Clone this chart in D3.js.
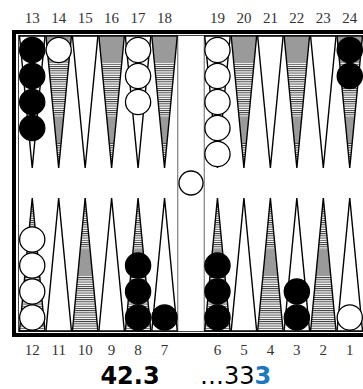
<!DOCTYPE html>
<html>
<head>
<meta charset="utf-8">
<script src="https://cdn.jsdelivr.net/npm/d3@7"></script>
<style>
  body { margin: 0; background: #fff; }
  svg { display: block; }
</style>
</head>
<body>
<svg id="board" width="363" height="389"></svg>
<script>
// board layout: top row left to right, bottom row left to right ("bar" = middle)
const topRow = [13, 14, 15, 16, 17, 18, "bar", 19, 20, 21, 22, 23, 24]
const bottomRow = [12, 11, 10, 9, 8, 7, "bar", 6, 5, 4, 3, 2, 1]
const shadedPoints = [14, 16, 18, 20, 22, 24, 12, 10, 8, 6, 4, 2]

// checkers sitting on points
const checkerPoint = [13, 14, 17, 19, 24, 12, 8, 7, 6, 3, 1]
const checkerCount = [4, 1, 3, 5, 2, 4, 3, 1, 3, 2, 1]
const checkerColor = ["black", "white", "white", "white", "black", "white", "black", "black", "black", "black", "white"]
const barCheckers = ["white"]

// pip counts under the board
const pipLeft = "42.3"
const pipRightPlain = "\u202633"
const pipRightBold = "3"

const svg = d3.select("#board")

const x = d3.scaleBand()
    .domain(d3.range(13))
    .range([19, 363])
    .paddingInner(0)

// stack position -> y for top and bottom rows
const yTop = d3.scaleLinear().domain([0, 1]).range([50, 76])
const yBot = d3.scaleLinear().domain([0, 1]).range([317.5, 291.5])

const TOP_BASE = 36, TOP_TIP = 168
const BOT_BASE = 331, BOT_TIP = 198

function slotOf(p) {
    let i = topRow.indexOf(p)
    if (i >= 0) return { i: i, top: true }
    return { i: bottomRow.indexOf(p), top: false }
}

// hatch pattern
const defs = svg.append("defs")
const pat = defs.append("pattern")
    .attr("id", "hatch")
    .attr("patternUnits", "userSpaceOnUse")
    .attr("width", 8)
    .attr("height", 2.2)
pat.append("rect").attr("width", 8).attr("height", 2.2).attr("fill", "#fff")
pat.append("line")
    .attr("x1", 0).attr("x2", 8)
    .attr("y1", 0.5).attr("y2", 0.5)
    .attr("stroke", "#111")
    .attr("stroke-width", 0.8)

// frame
svg.append("rect").attr("x", 12).attr("y", 30).attr("width", 351).attr("height", 4).attr("fill", "#000")
svg.append("rect").attr("x", 12).attr("y", 333).attr("width", 351).attr("height", 4).attr("fill", "#000")
svg.append("rect").attr("x", 12).attr("y", 30).attr("width", 4).attr("height", 307).attr("fill", "#000")
svg.append("rect")
    .attr("x", 18.5).attr("y", 35.5)
    .attr("width", 350).attr("height", 296)
    .attr("fill", "none")
    .attr("stroke", "#444")
    .attr("stroke-width", 1)

const barL = x(6), barR = x(6) + x.bandwidth()
svg.append("line").attr("x1", barL).attr("x2", barL).attr("y1", 36).attr("y2", 331)
    .attr("stroke", "#666").attr("stroke-width", 1)
svg.append("line").attr("x1", barR).attr("x2", barR).attr("y1", 36).attr("y2", 331)
    .attr("stroke", "#666").attr("stroke-width", 1)

// points
const pts = topRow.concat(bottomRow).filter(p => p !== "bar")
const gPts = svg.append("g")
pts.forEach(p => {
    const s = slotOf(p)
    const x0 = x(s.i) + 0.5, x1 = x(s.i) + x.bandwidth() - 0.5
    const xm = x(s.i) + x.bandwidth() / 2
    const base = s.top ? TOP_BASE : BOT_BASE
    const tip = s.top ? TOP_TIP : BOT_TIP
    const d = `M${x0},${base}L${x1},${base}L${xm},${tip}Z`
    const shaded = shadedPoints.includes(p)
    if (shaded) {
        defs.append("clipPath").attr("id", "clip" + p).append("path").attr("d", d)
        gPts.append("path").attr("d", d).attr("fill", "url(#hatch)")
        const bands = s.top ? [[37, 63], [117, 143]] : [[250, 276]]
        bands.forEach(b => {
            gPts.append("rect")
                .attr("x", x0).attr("width", x1 - x0)
                .attr("y", b[0]).attr("height", b[1] - b[0])
                .attr("fill", "#9a9a9a")
                .attr("clip-path", `url(#clip${p})`)
        })
    }
    gPts.append("path")
        .attr("d", d)
        .attr("fill", shaded ? "none" : "#fff")
        .attr("stroke", "#000")
        .attr("stroke-width", 1.4)
        .attr("stroke-linejoin", "miter")
})

// checkers
const gChk = svg.append("g")
checkerPoint.forEach((p, k) => {
    const s = slotOf(p)
    const cx = x(s.i) + x.bandwidth() / 2
    d3.range(checkerCount[k]).forEach(j => {
        gChk.append("circle")
            .attr("cx", cx)
            .attr("cy", s.top ? yTop(j) : yBot(j))
            .attr("r", 12.6)
            .attr("fill", checkerColor[k] === "black" ? "#000" : "#fff")
            .attr("stroke", "#000")
            .attr("stroke-width", 1.3)
    })
})
barCheckers.forEach(c => {
    gChk.append("circle")
        .attr("cx", x(6) + x.bandwidth() / 2)
        .attr("cy", 183)
        .attr("r", 12)
        .attr("fill", c === "black" ? "#000" : "#fff")
        .attr("stroke", "#000")
        .attr("stroke-width", 1.3)
})

// point numbers
const numFont = "'Liberation Serif', 'DejaVu Serif', serif"
topRow.forEach((p, i) => {
    if (p === "bar") return
    svg.append("text")
        .text(p)
        .attr("x", x(i) + x.bandwidth() / 2)
        .attr("y", 23)
        .attr("text-anchor", "middle")
        .attr("font-family", numFont)
        .attr("font-size", 15)
        .attr("fill", "#333")
})
bottomRow.forEach((p, i) => {
    if (p === "bar") return
    svg.append("text")
        .text(p)
        .attr("x", x(i) + x.bandwidth() / 2)
        .attr("y", 355)
        .attr("text-anchor", "middle")
        .attr("font-family", numFont)
        .attr("font-size", 15)
        .attr("fill", "#333")
})

// pip counts
const pipFont = "'DejaVu Sans', Verdana, sans-serif"
svg.append("text")
    .text(pipLeft)
    .attr("x", 130)
    .attr("y", 384)
    .attr("text-anchor", "middle")
    .attr("font-family", pipFont)
    .attr("font-weight", "bold")
    .attr("font-size", 24)
    .attr("fill", "#000")

const pr = svg.append("text")
    .attr("x", 200)
    .attr("y", 384)
    .attr("font-family", pipFont)
    .attr("font-size", 24)
pr.append("tspan").text(pipRightPlain).attr("fill", "#000")
pr.append("tspan").text(pipRightBold).attr("fill", "#1a78c2").attr("font-weight", "bold")
</script>
</body>
</html>
